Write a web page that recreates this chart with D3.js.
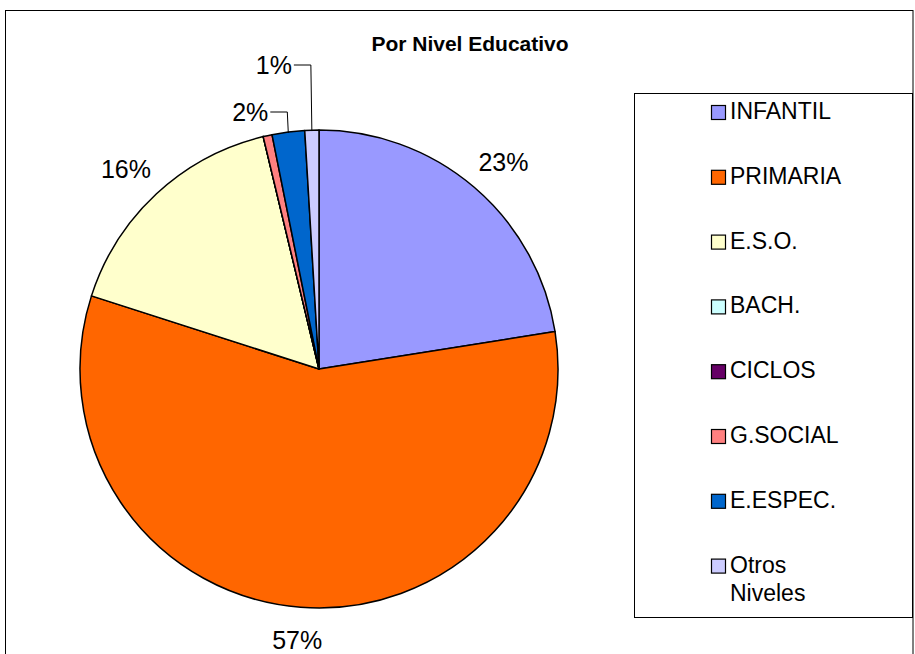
<!DOCTYPE html>
<html>
<head>
<meta charset="utf-8">
<script src="https://cdn.jsdelivr.net/npm/d3@7/dist/d3.min.js"></script>
<style>
  html, body { margin: 0; padding: 0; background: #fff; }
  svg { display: block; font-family: "Liberation Sans", Arial, sans-serif; }
</style>
</head>
<body>
<svg id="chart" width="915" height="654"></svg>
<script>
// ---- Data ----
const title = "Por Nivel Educativo";
const categories = ["INFANTIL", "PRIMARIA", "E.S.O.", "BACH.", "CICLOS", "G.SOCIAL", "E.ESPEC.", "Otros Niveles"];
const values = [22.5, 57.45, 16.3, 0, 0, 0.6, 2.2, 0.95];
const colors = ["#9999FF", "#FF6600", "#FFFFCC", "#CCFFFF", "#660066", "#FF8080", "#0066CC", "#CCCCFF"];
// which slices carry a percentage label, and how (direct or with leader line)
const labelMode = ["direct", "direct", "direct", "none", "none", "none", "leader", "leader"];
const leaderRise = [0, 0, 0, 0, 0, 0, 18, 65];

// ---- Layout ----
const svg = d3.select("#chart");
const W = 915, H = 654;
const cx = 319, cy = 369, R = 239;

// outer frame
svg.append("rect").attr("x", 5.5).attr("y", 10.5).attr("width", 907.5).attr("height", 660)
  .attr("fill", "#fff").attr("stroke", "#000").attr("stroke-width", 1);

// title
svg.append("text").attr("x", 470).attr("y", 51).attr("text-anchor", "middle")
  .attr("font-size", 21).attr("font-weight", "bold").attr("fill", "#000").text(title);

const total = d3.sum(values);
const pie = d3.pie().sort(null).value(d => d)(values);
const arc = d3.arc().innerRadius(0).outerRadius(R);

const g = svg.append("g").attr("transform", `translate(${cx},${cy})`);
g.selectAll("path.slice").data(pie).join("path")
  .attr("class", "slice")
  .attr("d", arc)
  .attr("fill", (d, i) => colors[i])
  .attr("stroke", "#000")
  .attr("stroke-width", 1.5)
  .attr("stroke-linejoin", "round");

const pct = v => Math.round(v / total * 100) + "%";

pie.forEach((d, i) => {
  const mid = (d.startAngle + d.endAngle) / 2;
  const s = Math.sin(mid), c = -Math.cos(mid);
  if (labelMode[i] === "direct") {
    const Rl = 260;
    const x = s * Rl + s * 24;
    const y = c * Rl + c * 12;
    g.append("text").attr("x", x).attr("y", y).attr("dy", "0.35em")
      .attr("text-anchor", "middle").attr("font-size", 25).attr("fill", "#000")
      .text(pct(d.data));
  } else if (labelMode[i] === "leader") {
    const ax = s * R, ay = c * R;
    const ey = -R - leaderRise[i];
    const ex = ax - 18;
    g.append("path")
      .attr("d", `M${ax},${ay + 1}L${ax - 1},${ey}L${ex},${ey}`)
      .attr("fill", "none").attr("stroke", "#000").attr("stroke-width", 1);
    g.append("text").attr("x", ex - 2).attr("y", ey).attr("dy", "0.35em")
      .attr("text-anchor", "end").attr("font-size", 25).attr("fill", "#000")
      .text(pct(d.data));
  }
});

// ---- Legend ----
const lg = svg.append("g");
lg.append("rect").attr("x", 634.5).attr("y", 93.5).attr("width", 278).attr("height", 524)
  .attr("fill", "#fff").attr("stroke", "#000").attr("stroke-width", 1);

const y0 = 119, step = 64.8;
categories.forEach((name, i) => {
  const by = y0 + i * step;
  lg.append("rect").attr("x", 711.5).attr("y", by - 13.5).attr("width", 14).attr("height", 14)
    .attr("fill", colors[i]).attr("stroke", "#000").attr("stroke-width", 1.2);
  const words = name === "Otros Niveles" ? ["Otros", "Niveles"] : [name];
  const t = lg.append("text").attr("x", 730).attr("y", by).attr("font-size", 23).attr("fill", "#000");
  words.forEach((w, k) => {
    t.append("tspan").attr("x", 730).attr("dy", k === 0 ? 0 : 28).text(w);
  });
});
</script>
</body>
</html>
